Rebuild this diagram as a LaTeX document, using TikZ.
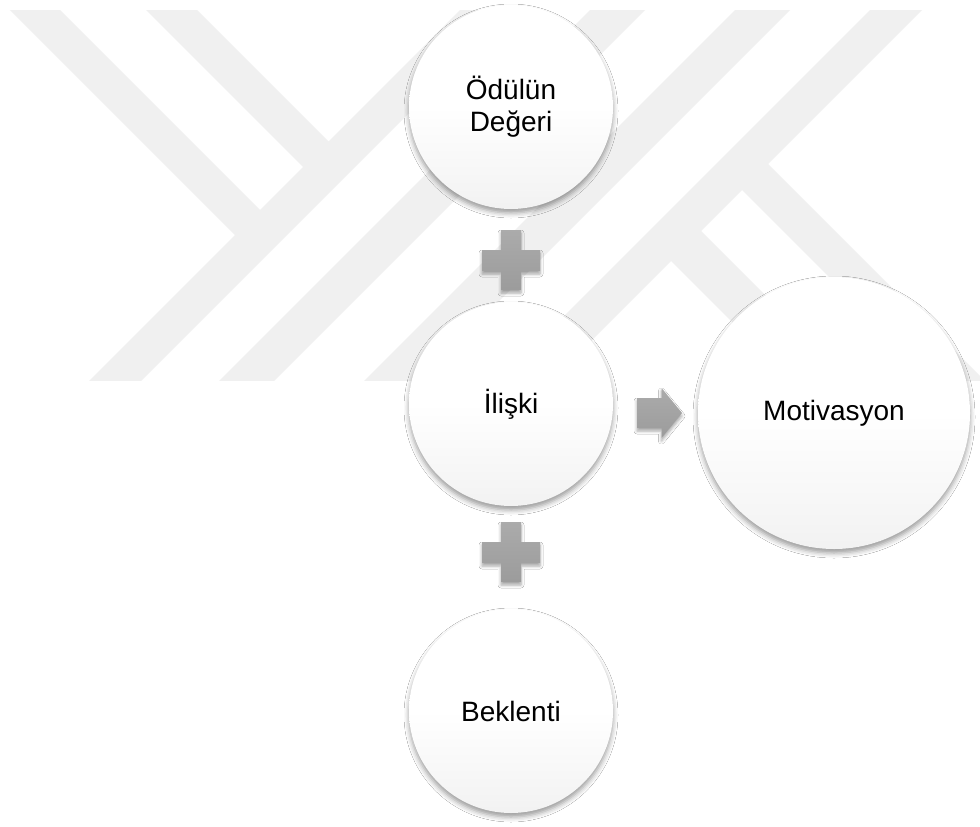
\documentclass[tikz,border=0pt]{standalone}
\usepackage{fontspec}
\setmainfont{Liberation Sans}
\usetikzlibrary{shadows.blur}
\pgfdeclareverticalshading{orb}{100bp}{color(0bp)=(black!12); color(30bp)=(black!4); color(50bp)=(white); color(100bp)=(white)}
\pgfdeclareverticalshading{plusgrad}{100bp}{color(0bp)=(black!42); color(100bp)=(black!30)}
\definecolor{wm}{HTML}{F0F0F0}
\begin{document}
\begin{tikzpicture}[x=1pt,y=-1pt,
  orbnode/.style={circle, inner sep=0pt, minimum size=204pt, shade, shading=orb,
    align=center, font=\fontsize{28}{32}\selectfont,
    blur shadow={shadow xshift=0pt, shadow yshift=-4pt, shadow blur radius=5pt, shadow opacity=40}},
  signshape/.style={shade, shading=plusgrad,
    blur shadow={shadow xshift=0pt, shadow yshift=-3pt, shadow blur radius=3pt, shadow opacity=35}},
  wmband/.style={fill=wm}]
\useasboundingbox (0,0) rectangle (980,827);
\fill[white] (0,0) rectangle (980,827);
% watermark
\begin{scope}
\clip (0,10) rectangle (980,380);
\fill[wmband] (470,0) -- (522,0) -- (122,400) -- (70,400) -- cycle;
\fill[wmband] (0,0) -- (50,0) -- (273,223) -- (248,248) -- cycle;
\fill[wmband] (136,0) -- (187,0) -- (341.5,154.5) -- (316,180) -- cycle;
\fill[wmband] (600,0) -- (655,0) -- (255,400) -- (200,400) -- cycle;
\fill[wmband] (745,0) -- (800,0) -- (400,400) -- (345,400) -- cycle;
\fill[wmband] (880,0) -- (932,0) -- (532,400) -- (480,400) -- cycle;
\fill[wmband] (755,151) -- (1052,448) -- (1026,474) -- (729,177) -- cycle;
\fill[wmband] (688,218) -- (985,515) -- (955,545) -- (658,248) -- cycle;
\end{scope}
% circles
\node[orbnode] (odul) at (511,107) {Ödülün\\Değeri};
\node[orbnode] (iliski) at (511,404) {İlişki};
\node[orbnode] (bek) at (511,711) {Beklenti};
\node[orbnode, minimum size=272pt] (mot) at (834,413) {Motivasyon};
% plus signs and arrow
\coordinate (p1) at (511,260);
\coordinate (p2) at (511,552);
\coordinate (ar) at (659.5,413);
\foreach \c in {p1,p2}{
  \path[signshape, shift={(\c)}] (-29,-10) -- (-10,-10) -- (-10,-30) -- (10,-30) -- (10,-10) -- (29,-10)
    -- (29,11) -- (10,11) -- (10,30) -- (-10,30) -- (-10,11) -- (-29,11) -- cycle;
}
\path[signshape, shift={(ar)}] (-22.5,-15) -- (2,-15) -- (2,-25) -- (22.5,0) -- (2,25) -- (2,15) -- (-22.5,15) -- cycle;
\end{tikzpicture}
\end{document}
